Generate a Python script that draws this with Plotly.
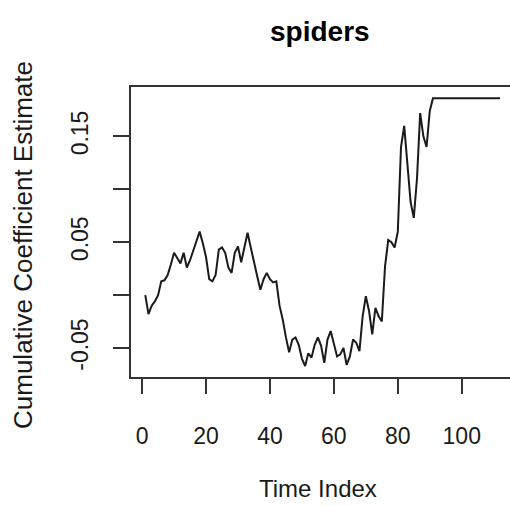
import plotly.graph_objects as go

time_index = list(range(1, 113))
coef = [
    0.000, -0.018, -0.010, -0.006, 0.000, 0.013, 0.014, 0.019, 0.029, 0.040,
    0.035, 0.030, 0.040, 0.026, 0.033, 0.042, 0.049, 0.060, 0.049, 0.036,
    0.015, 0.013, 0.019, 0.043, 0.045, 0.040, 0.026, 0.021, 0.040, 0.046,
    0.031, 0.046, 0.059, 0.045, 0.030, 0.018, 0.005, 0.015, 0.021, 0.015,
    0.012, 0.013, -0.010, -0.023, -0.040, -0.054, -0.042, -0.040, -0.047, -0.060,
    -0.067, -0.055, -0.059, -0.047, -0.040, -0.048, -0.064, -0.042, -0.034, -0.045,
    -0.058, -0.056, -0.050, -0.066, -0.058, -0.042, -0.045, -0.053, -0.020, -0.001,
    -0.015, -0.037, -0.012, -0.020, -0.025, 0.027, 0.052, 0.050, 0.045, 0.060,
    0.140, 0.160, 0.120, 0.088, 0.073, 0.110, 0.172, 0.150, 0.140, 0.174,
    0.186, 0.186, 0.186, 0.186, 0.186, 0.186, 0.186, 0.186, 0.186, 0.186,
    0.186, 0.186, 0.186, 0.186, 0.186, 0.186, 0.186, 0.186, 0.186, 0.186,
    0.186, 0.186,
]
x_ticks = [0, 20, 40, 60, 80, 100]
x_tick_labels = ["0", "20", "40", "60", "80", "100"]
y_ticks = [-0.05, 0.0, 0.05, 0.10, 0.15]
y_tick_labels = ["-0.05", "", "0.05", "", "0.15"]

W, H = 510, 506
L, R, T, B = 131, 0, 87, 129
FONT = "Liberation Sans, Arial, sans-serif"
INK = "#1a1a1a"

def px_x(p):
    return (p - L) / (W - L - R)

def px_y(p):
    return (H - B - p) / (H - T - B)

fig = go.Figure()
fig.add_trace(go.Scatter(
    x=time_index, y=coef, mode="lines",
    line=dict(color=INK, width=2), hoverinfo="skip", showlegend=False,
))

fig.update_layout(
    width=W, height=H,
    margin=dict(l=L, r=R, t=T, b=B, pad=0),
    paper_bgcolor="white", plot_bgcolor="white",
    font=dict(family=FONT, color=INK),
    showlegend=False,
    xaxis=dict(
        range=[-3.47, 115.1], tickvals=x_ticks, ticktext=x_tick_labels,
        showgrid=False, zeroline=False, showline=True, mirror=True,
        linecolor="#333333", linewidth=2,
        ticks="outside", ticklen=15, tickwidth=2, tickcolor="#333333",
        tickfont=dict(size=23, family=FONT, color=INK),
        ticklabelstandoff=22,
    ),
    yaxis=dict(
        range=[-0.0774, 0.1967], tickvals=y_ticks, ticktext=y_tick_labels,
        showgrid=False, zeroline=False, showline=True, mirror=False,
        linecolor="#333333", linewidth=2,
        ticks="outside", ticklen=16, tickwidth=2, tickcolor="#333333",
        tickangle=-90,
        tickfont=dict(size=23, family=FONT, color=INK),
        ticklabelstandoff=16,
    ),
    annotations=[
        dict(text="<b>spiders</b>", xref="paper", yref="paper",
             x=px_x(320), y=px_y(31), xanchor="center", yanchor="middle",
             showarrow=False, font=dict(size=28, family=FONT, color="#000")),
        dict(text="Time Index", xref="paper", yref="paper",
             x=px_x(318), y=px_y(489), xanchor="center", yanchor="middle",
             showarrow=False, font=dict(size=24, family=FONT, color=INK)),
        dict(text="Cumulative Coefficient Estimate", xref="paper", yref="paper",
             x=px_x(23), y=px_y(245), xanchor="center", yanchor="middle",
             textangle=-90, showarrow=False,
             font=dict(size=26, family=FONT, color=INK)),
    ],
)

fig.write_html("out.html", config={"displayModeBar": False})
